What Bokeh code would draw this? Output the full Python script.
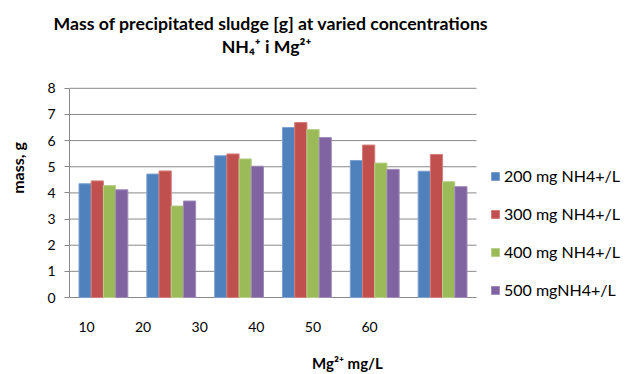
from bokeh.plotting import figure
from bokeh.models import (Range1d, LinearAxis, FixedTicker, Legend, LegendItem,
                          ColumnDataSource, Title)
from bokeh.core.properties import value
from bokeh.transform import dodge
from bokeh.embed import file_html
from bokeh.resources import INLINE

categories = ["10", "20", "30", "40", "50", "60"]
tick_values = [10, 20, 30, 40, 50, 60]
y_ticks = [0, 1, 2, 3, 4, 5, 6, 7, 8]
series_names = ["200 mg NH4+/L", "300 mg NH4+/L", "400 mg NH4+/L", "500 mgNH4+/L"]
s200 = [4.35, 4.72, 5.42, 6.50, 5.24, 4.83]
s300 = [4.46, 4.84, 5.49, 6.69, 5.83, 5.47]
s400 = [4.28, 3.50, 5.30, 6.42, 5.14, 4.43]
s500 = [4.12, 3.69, 5.02, 6.12, 4.90, 4.24]
series_values = [s200, s300, s400, s500]
colors = ["#4F81BD", "#C0504D", "#9BBB59", "#8064A2"]
edge_colors = ["#7DA1CF", "#D47E7C", "#B8D08A", "#A08CBB"]
title_line1 = "Mass of precipitated sludge [g] at varied concentrations"
title_line2 = ["NH₄⁺ i Mg²⁺"]
x_title = "Mg²⁺ mg/L"
y_title = "mass, g"

FONT = "Lato"
GRID = "#898989"

# ---- layout in pixels ----
W, H = 625, 374
LEFT = 69                 # left edge of plotting area
BAR_AREA = 407            # pixel width of the bar region
Y0_PX = 298               # pixel row of value 0
PX_PER_Y = 26.25          # pixels per unit of mass
FRAME_TOP_PX = 36
FRAME_BOTTOM_PX = 300
FRAME_W = W - LEFT
n = len(categories)
x_end = n * FRAME_W / BAR_AREA
y_start = -(FRAME_BOTTOM_PX - Y0_PX) / PX_PER_Y
y_end = (Y0_PX - FRAME_TOP_PX) / PX_PER_Y


def px_to_x(px):
    return (px - LEFT) * n / BAR_AREA


def px_to_y(py):
    return (Y0_PX - py) / PX_PER_Y


xpos = [i + 0.5 for i in range(n)]
src = ColumnDataSource(dict(cat=categories, xpos=xpos, s0=s200, s1=s300, s2=s400, s3=s500))

p = figure(width=W, height=H, output_backend="svg", toolbar_location=None,
           x_range=Range1d(0, x_end), y_range=Range1d(y_start, y_end),
           x_axis_location=None,
           min_border_left=LEFT, min_border_right=0, min_border_top=FRAME_TOP_PX,
           min_border_bottom=H - FRAME_BOTTOM_PX)
p.outline_line_color = None
p.xgrid.grid_line_color = None
p.ygrid.grid_line_color = None

# horizontal gridlines limited to bar region (the one at 0 is the category axis line)
p.segment(x0=[0] * len(y_ticks), x1=[n] * len(y_ticks), y0=y_ticks, y1=y_ticks,
          line_color=GRID, line_width=1)

# y axis
ya = p.yaxis[0]
ya.ticker = FixedTicker(ticks=y_ticks)
ya.bounds = (0, 8)
ya.axis_line_color = GRID
ya.major_tick_line_color = GRID
ya.major_tick_out = 5
ya.major_tick_in = 0
ya.minor_tick_line_color = None
ya.major_label_text_font = FONT
ya.major_label_text_font_size = "14px"
ya.major_label_text_color = "#000000"
ya.major_label_standoff = 9
ya.axis_label = y_title
ya.axis_label_text_font = FONT
ya.axis_label_text_font_style = "bold"
ya.axis_label_text_font_size = "16px"
ya.axis_label_text_color = "#000000"
ya.axis_label_standoff = 17

# bars
offsets = [-0.27, -0.09, 0.09, 0.27]
items = []
for i in range(4):
    r = p.vbar(x=dodge("xpos", offsets[i]), top="s%d" % i, width=0.18,
               source=src, fill_color=colors[i], line_color=edge_colors[i], line_width=1)
    items.append(LegendItem(label=series_names[i], renderers=[r]))

# x axis with tick labels
lab_ppu = 5.66
lab_start = 10 - 17 / lab_ppu
lab_end = lab_start + FRAME_W / lab_ppu
p.extra_x_ranges = {"lab": Range1d(lab_start, lab_end)}
xa = LinearAxis(x_range_name="lab", ticker=FixedTicker(ticks=tick_values))
xa.axis_line_color = None
xa.major_tick_line_color = None
xa.minor_tick_line_color = None
xa.major_label_text_font = FONT
xa.major_label_text_font_size = "14px"
xa.major_label_text_color = "#000000"
xa.major_label_standoff = 16
p.add_layout(xa, "below")

# x axis title (label-only axis, centred where the reference has it)
xt = LinearAxis(x_range_name="lab", ticker=FixedTicker(ticks=[]))
xt.bounds = (lab_start, lab_start + 2 * (228 - LEFT) / lab_ppu)
xt.axis_line_color = None
xt.major_tick_line_color = None
xt.minor_tick_line_color = None
xt.major_label_text_font_size = "0px"
xt.axis_label = x_title
xt.axis_label_text_font = FONT
xt.axis_label_text_font_style = "bold"
xt.axis_label_text_font_size = "15px"
xt.axis_label_text_color = "#000000"
xt.axis_label_standoff = 19
p.add_layout(xt, "below")

# legend
legend = Legend(items=items, location=(421, 0), orientation="vertical")
legend.label_text_font = FONT
legend.label_text_font_size = "16px"
legend.label_text_color = "#000000"
legend.glyph_width = 10
legend.glyph_height = 10
legend.label_height = 18
legend.spacing = 19
legend.padding = 0
legend.margin = 0
legend.label_standoff = 4
legend.border_line_color = None
legend.background_fill_alpha = 0
p.add_layout(legend, "center")

# chart title: first line as the plot title, second line inside the top of the frame
p.title = Title(text=title_line1, align="left", offset=53 - LEFT, standoff=6,
                text_font=FONT, text_font_size="17.7px", text_font_style="bold",
                text_color="#000000")
p.text(x=[px_to_x(266)], y=[px_to_y(46)], text=title_line2,
       text_font=value(FONT), text_font_style="bold", text_font_size=value("17.7px"),
       text_align="center", text_baseline="middle", text_color="#000000")

open("out.html", "w").write(file_html(p, INLINE))
